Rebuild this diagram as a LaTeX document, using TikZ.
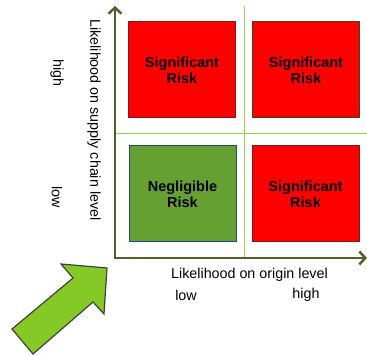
\documentclass[tikz,border=0pt]{standalone}
\usepackage{fontspec}
\setmainfont{Liberation Sans}
\usetikzlibrary{positioning}
\usetikzlibrary{arrows.meta}
\definecolor{red}{RGB}{255,0,0}
\definecolor{darkred}{RGB}{128,24,24}
\definecolor{green}{RGB}{102,160,50}
\definecolor{olive}{RGB}{79,98,40}
\definecolor{lightgreen}{RGB}{146,208,80}
\definecolor{arrowgreen}{RGB}{132,201,38}
\definecolor{navy}{RGB}{31,73,125}
\definecolor{darkgrey}{RGB}{64,64,64}
\tikzset{
  riskbox/.style={draw, line width=1pt, minimum width=107pt, minimum height=96pt,
    align=center, font=\fontsize{14.5}{16}\selectfont\bfseries, inner sep=0pt},
  axis/.style={olive, line width=2.8pt, -{Straight Barb[length=6pt,width=13pt,line width=2.5pt]}},
  grid/.style={lightgreen, line width=0.8pt},
  label/.style={font=\fontsize{14.3}{16}\selectfont, inner sep=0pt}
}

\begin{document}
\begin{tikzpicture}[x=1pt, y=1pt]
    \useasboundingbox (0,0) rectangle (367,355);

    % draw grid lines
    \coordinate (gtop) at (244,349);
    \coordinate (gbot) at (244,97);
    \coordinate (gleft) at (115,222);
    \coordinate (gright) at (367,222);
    \draw[grid] (gtop) -- (gbot);
    \draw[grid] (gleft) -- (gright);

    % draw boxes
    \node[riskbox, fill=red, draw=darkred] (tl) at (182,285) {Significant\\Risk};
    \node[riskbox, fill=red, draw=olive!70!black] (tr) at (306,285) {Significant\\Risk};
    \node[riskbox, fill=green, draw=navy] (bl) at (182.5,161) {Negligible\\Risk};
    \node[riskbox, fill=red, draw=darkred] (br) at (305.5,161) {Significant\\Risk};

    % draw axes
    \coordinate (origin) at (115,97);
    \coordinate (ytip) at (115,349);
    \coordinate (xtip) at (367,97);
    \draw[axis] (origin) -- (ytip);
    \draw[axis] ([xshift=-1.4pt]origin) -- (xtip);

    % draw labels
    \node[label, rotate=-90] (ylabel) at (94,235) {Likelihood on supply chain level};
    \node[label, rotate=-90] (yhigh) at (57,282) {high};
    \node[label, rotate=-90] (ylow) at (57,158) {low};
    \node[label] (xlabel) at (249.5,80) {Likelihood on origin level};
    \node[label] (xlow) at (186,60) {low};
    \node[label] (xhigh) at (306,60) {high};

    % big arrow
    \draw[fill=arrowgreen, draw=darkgrey, line width=1.2pt, line join=miter]
      (107,87) -- (61,91) -- (73,77) -- (12,26) -- (33,1) -- (93,53) -- (104,41) -- cycle;

\end{tikzpicture}
\end{document}
